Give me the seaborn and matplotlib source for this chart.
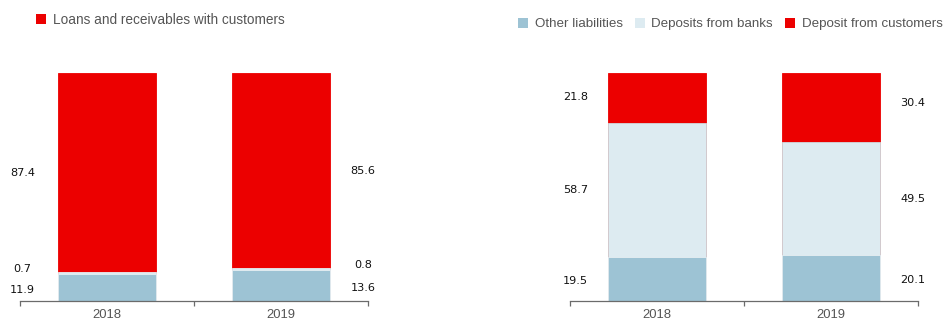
import matplotlib
matplotlib.use("Agg")
import matplotlib.pyplot as plt
import seaborn as sns
import pandas as pd
import numpy as np
from matplotlib.patches import Patch

sns.set_theme(style="white")
plt.rcParams['font.family'] = ['Liberation Sans', 'DejaVu Sans']

years = ["2018", "2019"]

# Left panel (assets)
left_other = [11.9, 13.6]
left_small = [0.7, 0.8]
left_loans = [87.4, 85.6]

# Right panel (liabilities)
right_other = [19.5, 20.1]
right_banks = [58.7, 49.5]
right_customers = [21.8, 30.4]

RED = "#EC0000"
BLUE = "#9DC3D4"
LIGHT = "#DDEBF1"

fig = plt.figure(figsize=(9.5, 3.2), dpi=100)
axL = fig.add_axes([20/950, 1-301/320, 348/950, 228/320])
axR = fig.add_axes([570/950, 1-301/320, 348/950, 228/320])

BW = 0.563

def stacked(ax, layers, colors, edges):
    # layers bottom->top; draw cumulative totals from top down
    cum = np.cumsum(np.array(layers), axis=0)
    for i in range(len(layers) - 1, -1, -1):
        df = pd.DataFrame({"year": years, "v": cum[i]})
        sns.barplot(data=df, x="year", y="v", order=years, color=colors[i],
                    width=BW, ax=ax, saturation=1, edgecolor=edges[i], linewidth=0.6)
    return cum

def style(ax):
    ax.set_ylim(0, 100)
    ax.set_xlim(-0.5, 1.5)
    ax.set_xlabel("")
    ax.set_ylabel("")
    ax.set_yticks([])
    for s in ["top", "right", "left"]:
        ax.spines[s].set_visible(False)
    ax.spines["bottom"].set_color("#6b6b6b")
    ax.spines["bottom"].set_linewidth(0.9)
    ax.set_xticks([-0.5, 0.5, 1.5], minor=True)
    ax.tick_params(axis="x", which="minor", bottom=True, length=3.5, width=0.9, color="#6b6b6b", direction="out")
    ax.tick_params(axis="x", which="major", bottom=True, length=0, labelsize=9.4, labelcolor="#555555", pad=6)
    ax.set_facecolor("none")

# Left
stacked(axL, [left_other, left_small, left_loans], [BLUE, LIGHT, RED], ["#e6eef2", "#e6eef2", RED])
style(axL)
lbl = dict(fontsize=8.1, color="#111111", ha="center", va="center", family="DejaVu Sans", clip_on=False)
for j, xp in enumerate([-0.485, 1.47]):
    o, s, l = left_other[j], left_small[j], left_loans[j]
    axL.text(xp, o / 2 - 1, f"{o}", **lbl)
    axL.text(xp, o + s / 2 + 1.8, f"{s}", **lbl)
    axL.text(xp, o + s + l / 2, f"{l}", **lbl)

axL.legend(handles=[Patch(facecolor=RED, edgecolor="none", label="Loans and receivables with customers")],
           loc="center left", bbox_to_anchor=(36/950, 1-20/320), bbox_transform=fig.transFigure,
           frameon=False, fontsize=9.8, handlelength=0.75, handleheight=0.75, handletextpad=0.5,
           labelcolor="#555555", borderaxespad=0, borderpad=0)

# Right
stacked(axR, [right_other, right_banks, right_customers], [BLUE, LIGHT, RED], ["#e6eef2", "#cfd9de", RED])
style(axR)
for j, xp in enumerate([-0.47, 1.47]):
    o, b, c = right_other[j], right_banks[j], right_customers[j]
    axR.text(xp, o / 2 - 1, f"{o}", **lbl)
    axR.text(xp, o + b / 2, f"{b}", **lbl)
    axR.text(xp, o + b + c / 2 + (0.5 if j == 0 else 2), f"{c}", **lbl)

axR.legend(handles=[Patch(facecolor=BLUE, edgecolor="none", label="Other liabilities"),
                    Patch(facecolor=LIGHT, edgecolor="none", label="Deposits from banks"),
                    Patch(facecolor=RED, edgecolor="none", label="Deposit from customers")],
           loc="center left", bbox_to_anchor=(518/950, 1-24/320), bbox_transform=fig.transFigure,
           frameon=False, fontsize=9.6, ncol=3, handlelength=0.75, handleheight=0.75,
           handletextpad=0.5, columnspacing=0.9, labelcolor="#555555", borderaxespad=0, borderpad=0)

fig.savefig("out.png", dpi=100)
